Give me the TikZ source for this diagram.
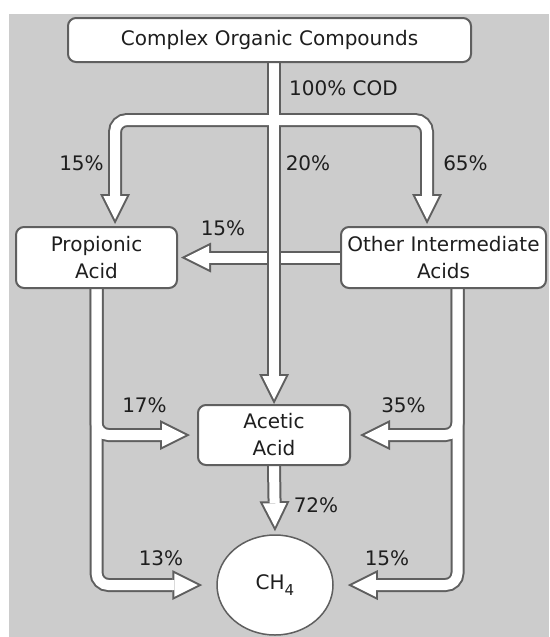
\documentclass[tikz,border=0pt]{standalone}
\usepackage{fontspec}
\setmainfont{DejaVu Sans}
\usetikzlibrary{positioning, arrows.meta, backgrounds, shapes.geometric}

\definecolor{bggray}{RGB}{204,204,204}
\definecolor{linegray}{RGB}{95,95,95}
\definecolor{textgray}{RGB}{30,30,30}

\begin{document}
\begin{tikzpicture}[
        x=1pt, y=-1pt,
        font=\fontsize{20}{27}\selectfont,
        % Define common styles for the nodes, labels and hollow flows
        box/.style={draw=linegray, line width=2pt, fill=white, rounded corners=8pt, align=center, inner sep=0pt, text=textgray},
        ball/.style={draw=linegray, line width=1.5pt, fill=white, ellipse, inner sep=0pt, text=textgray},
        pct/.style={text=textgray, inner sep=0pt},
        flowout/.style={draw=linegray, line width=14pt, rounded corners=12pt, -{Triangle[width=30pt, length=30pt, line width=0pt]}},
        flowin/.style={draw=white, line width=10pt, rounded corners=12pt, shorten >=4.5pt, -{Triangle[width=23.5pt, length=23.5pt, line width=0pt]}}
    ]
    \useasboundingbox (0,0) rectangle (549,637);

    % Define the nodes
    \node[box, minimum width=403pt, minimum height=44pt] (cmplx) at (269.5,40) {Complex Organic Compounds};
    \node[box, minimum width=161pt, minimum height=61pt] (prop) at (96.5,257.5) {Propionic\\Acid};
    \node[box, minimum width=205pt, minimum height=61pt] (other) at (443.5,257.5) {Other Intermediate\\Acids};
    \node[box, minimum width=152pt, minimum height=60pt] (acetic) at (274,435) {Acetic\\Acid};
    \node[ball, minimum width=116pt, minimum height=100pt] (ch4) at (275,585) {CH\raisebox{-0.5ex}{\fontsize{15}{15}\selectfont 4}};

    % Percentages
    \node[pct, anchor=west] (cod) at (289,88) {100\% COD};
    \node[pct] (toprop) at (81.5,163) {15\%};
    \node[pct] (toacet) at (308,163) {20\%};
    \node[pct] (tooth) at (465.5,163) {65\%};
    \node[pct] (othprop) at (223,228) {15\%};
    \node[pct] (propacet) at (144.5,405) {17\%};
    \node[pct] (othacet) at (403.5,405) {35\%};
    \node[pct] (acetch) at (316,505) {72\%};
    \node[pct] (propch) at (161,558) {13\%};
    \node[pct] (othch) at (387,558) {15\%};

    \begin{scope}[on background layer]
        \fill[bggray] (8.5,13.5) rectangle (549,637);
        % other acids to propionic acid, runs under the main stem
        \foreach \lay in {flowout, flowin}
            \draw[\lay] (other.west) -- ([xshift=3pt]prop.east);
        % split of the COD
        \coordinate (split) at (274,120);
        \foreach \lay in {flowout, flowin} {
            \draw[\lay] (split) -| ([xshift=18.5pt,yshift=2pt]prop.north);
            \draw[\lay] (split) -| ([xshift=-16.5pt,yshift=2pt]other.north);
            \draw[\lay] (cmplx.south -| acetic.north) -- (acetic.north);
        }
        % down to acetic acid and methane
        \foreach \lay in {flowout, flowin} {
            \draw[\lay] (prop.south) |- ([xshift=-7pt]acetic.west);
            \draw[\lay] (prop.south) |- ([xshift=-14pt]ch4.west);
            \draw[\lay] ([xshift=14pt]other.south) |- ([xshift=9pt]acetic.east);
            \draw[\lay] ([xshift=14pt]other.south) |- ([xshift=14pt]ch4.east);
            \draw[\lay] (acetic.south) -- ([yshift=3pt]ch4.north);
        }
    \end{scope}

\end{tikzpicture}
\end{document}
